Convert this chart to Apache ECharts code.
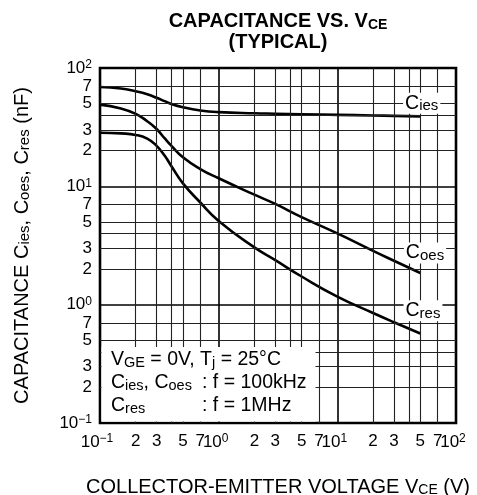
<!DOCTYPE html>
<html>
<head>
<meta charset="utf-8">
<script src="https://cdn.jsdelivr.net/npm/echarts@6/dist/echarts.min.js"></script>
<style>html,body{margin:0;padding:0;background:#fff}#main{width:477px;height:495px}</style>
</head>
<body>
<div id="main"></div>
<script>
'use strict';
// VCE (V) and capacitance (nF)
var vce  = [0.1, 0.15, 0.2, 0.25, 0.3, 0.35, 0.4, 0.5, 0.7, 1, 2, 3, 5, 10, 20, 30, 50];
var cies = [69, 67, 63.5, 60, 56, 52.5, 49.6, 46.6, 43.8, 42.4, 41.4, 41.1, 40.7, 40.2, 39.7, 39.4, 39];
var coes = [49, 45.5, 41, 35.5, 30.5, 25.5, 22, 17.6, 14, 11.7, 8.5, 7.1, 5.5, 4.0, 2.85, 2.35, 1.85];
var cres = [28.4, 28, 27.2, 25.3, 22, 18.2, 14.8, 10.6, 7.3, 5.1, 3.05, 2.38, 1.73, 1.17, 0.85, 0.71, 0.57];
// minor grid lines (2,3,4,5,7 of each decade), only some of them get a label
var minorGrid = [0.2, 0.3, 0.4, 0.5, 0.7, 2, 3, 4, 5, 7, 20, 30, 40, 50, 70];
var minorLabelled = [2, 3, 5, 7];
// curve name labels (sub part) and where they sit, in data coords
var curveSubs = ['ies', 'oes', 'res'];
var curveLabelAt = [[51.4, 50.3], [54.8, 2.73], [52.7, 0.89]];

var FONT = "'Liberation Sans', Arial, sans-serif";
var SUP = {'-1': '\u22121', '0': '0', '1': '1', '2': '2'};

function pairs(ys) {
    return vce.map(function (x, i) { return [x, ys[i]]; });
}
function digit(v) {
    var d = Math.round(v / Math.pow(10, Math.floor(Math.log10(v) + 1e-9)));
    return minorLabelled.indexOf(d) >= 0 ? String(d) : '';
}
function curve(name, ys, extra) {
    var s = {
        name: name,
        type: 'line',
        smooth: 0.5,
        showSymbol: false,
        silent: true,
        data: pairs(ys),
        lineStyle: {color: '#000', width: 2.6},
        z: 3
    };
    if (extra) {
        for (var k in extra) s[k] = extra[k];
    }
    return s;
}

var minorLabel = {
    show: true,
    position: 'start',
    color: '#000',
    fontSize: 17,
    fontFamily: FONT,
    formatter: '{b}'
};

var chart = echarts.init(document.getElementById('main'));
var option = {
    backgroundColor: '#fff',
    animation: false,
    textStyle: {fontFamily: FONT},
    grid: {left: 100, right: 21, top: 68, bottom: 72, outerBoundsMode: 'none', containLabel: false,
        show: true, borderColor: '#000', borderWidth: 2.6, backgroundColor: 'transparent'},
    xAxis: {
        type: 'log',
        logBase: 10,
        min: 0.1,
        max: 100,
        name: 'COLLECTOR-EMITTER VOLTAGE V{s|CE} (V)',
        nameLocation: 'middle',
        nameGap: 54,
        nameTextStyle: {
            color: '#000', fontSize: 20, fontFamily: FONT,
            rich: {s: {fontSize: 14, fontFamily: FONT, color: '#000', verticalAlign: 'bottom', lineHeight: 16}}
        },
        axisLine: {show: false},
        axisTick: {show: false},
        splitLine: {show: true, lineStyle: {color: '#000', width: 1.6}},
        axisLabel: {
            margin: 10,
            align: 'center',
            formatter: function (v) {
                var e = String(Math.round(Math.log10(v)));
                return '{b|10}{s|' + SUP[e] + '}';
            },
            rich: {
                b: {fontSize: 17, fontFamily: FONT, color: '#000', lineHeight: 18},
                s: {fontSize: 12, fontFamily: FONT, color: '#000', verticalAlign: 'top', lineHeight: 12, padding: [0, 6, 0, 0]}
            }
        }
    },
    yAxis: {
        type: 'log',
        logBase: 10,
        min: 0.1,
        max: 100,
        name: 'CAPACITANCE C{s|ies}, C{s|oes}, C{s|res} (nF)',
        nameLocation: 'middle',
        nameGap: 68,
        nameRotate: 90,
        nameTextStyle: {
            color: '#000', fontSize: 20, fontFamily: FONT,
            rich: {s: {fontSize: 15, fontFamily: FONT, color: '#000', verticalAlign: 'bottom', lineHeight: 16}}
        },
        axisLine: {show: false},
        axisTick: {show: false},
        splitLine: {show: true, lineStyle: {color: '#000', width: 1.6}},
        axisLabel: {
            margin: 8,
            formatter: function (v) {
                var e = String(Math.round(Math.log10(v)));
                return '{b|10}{s|' + SUP[e] + '}';
            },
            rich: {
                b: {fontSize: 17, fontFamily: FONT, color: '#000', lineHeight: 18},
                s: {fontSize: 12, fontFamily: FONT, color: '#000', verticalAlign: 'top', lineHeight: 12}
            }
        }
    },
    series: [
        curve('Cies', cies, {
            markLine: {
                silent: true,
                symbol: 'none',
                animation: false,
                lineStyle: {color: '#222', width: 1.1, type: 'solid'},
                data: minorGrid.map(function (v) {
                    return {xAxis: v, name: digit(v), label: {distance: 10}};
                }).concat(minorGrid.map(function (v) {
                    return {yAxis: v, name: digit(v), label: {distance: 8}};
                })),
                label: minorLabel
            }
        }),
        curve('Coes', coes),
        curve('Cres', cres)
    ]
};
chart.setOption(option);

// title, condition box and curve names
var bold = {b: {fontSize: 20, fontWeight: 'bold', fontFamily: FONT, fill: '#000', lineHeight: 22},
            s: {fontSize: 14, fontWeight: 'bold', fontFamily: FONT, fill: '#000', verticalAlign: 'bottom', lineHeight: 16}};
var titleEls = [
    {t: '{b|CAPACITANCE VS. V}{s|CE}', y: 21},
    {t: '{b|(TYPICAL)}', y: 42}
];
var g = titleEls.map(function (o) {
    return {type: 'text', z: 50, silent: true, x: 278, y: o.y,
        style: {text: o.t, rich: bold, align: 'center', verticalAlign: 'middle'}};
});

// white condition box in the lower left
var reg = {fontSize: 19.5, fontFamily: FONT, fill: '#000', lineHeight: 21};
var sub = {fontSize: 14.5, fontFamily: FONT, fill: '#000', verticalAlign: 'bottom', lineHeight: 16};
var subj = {fontSize: 14.5, fontFamily: FONT, fill: '#000', verticalAlign: 'bottom', lineHeight: 12};
g.push({type: 'rect', z: 40, silent: true, shape: {x: 101.5, y: 347, width: 214, height: 74.5},
    style: {fill: '#fff'}});
var boxLines = [
    {t: '{r|V}{s|GE}{r| = 0V, T}{j|j}{r| = 25\u00b0C}', x: 111, y: 360},
    {t: '{r|C}{s|ies}{r|, C}{s|oes}', x: 111, y: 383},
    {t: '{r|: f = 100kHz}', x: 202, y: 383},
    {t: '{r|C}{s|res}', x: 111, y: 406},
    {t: '{r|: f = 1MHz}', x: 202, y: 406}
];
boxLines.forEach(function (o) {
    g.push({type: 'text', z: 50, silent: true, x: o.x, y: o.y,
        style: {text: o.t, rich: {r: reg, s: sub, j: subj}, align: 'left', verticalAlign: 'middle'}});
});

// curve names sitting on the grid lines
curveSubs.forEach(function (s, i) {
    var p = chart.convertToPixel({gridIndex: 0}, curveLabelAt[i]);
    g.push({type: 'text', z: 50, silent: true, x: p[0], y: p[1],
        style: {text: '{r|C}{s|' + s + '}', rich: {r: reg, s: {fontSize: 15, fontFamily: FONT, fill: '#000', verticalAlign: 'bottom', lineHeight: 16}},
            align: 'center', verticalAlign: 'middle', backgroundColor: '#fff', padding: [0, 2, 0, 2]}});
});

chart.setOption({graphic: g});
</script>
</body>
</html>
